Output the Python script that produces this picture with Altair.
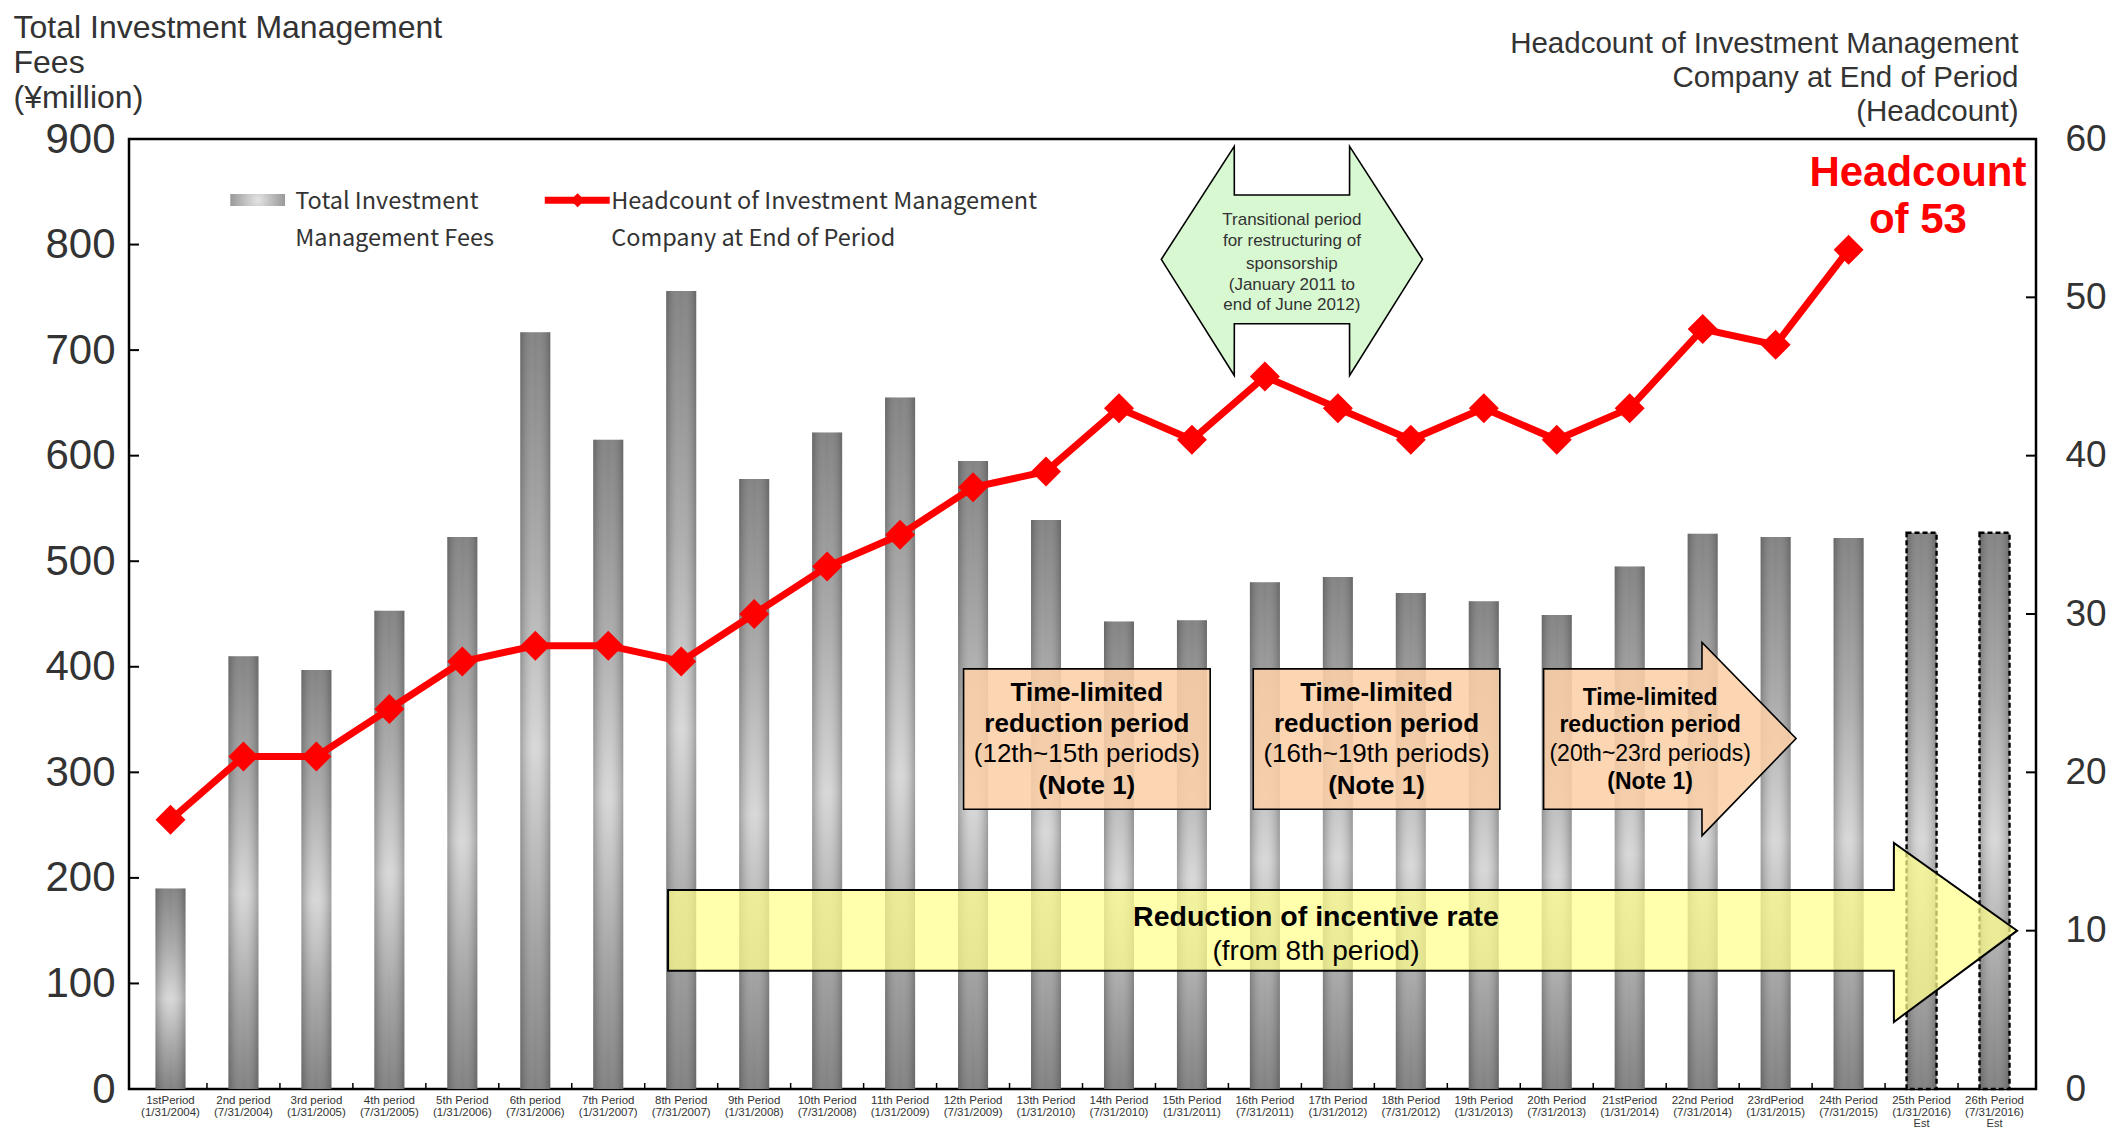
import altair as alt
import pandas as pd

# ---------------- data ----------------
periods = ["1stPeriod", "2nd period", "3rd period", "4th period", "5th Period", "6th period",
           "7th Period", "8th Period", "9th Period", "10th Period", "11th Period", "12th Period",
           "13th Period", "14th Period", "15th Period", "16th Period", "17th Period", "18th Period",
           "19th Period", "20th Period", "21stPeriod", "22nd Period", "23rdPeriod", "24th Period",
           "25th Period", "26th Period"]
dates = ["(1/31/2004)", "(7/31/2004)", "(1/31/2005)", "(7/31/2005)", "(1/31/2006)", "(7/31/2006)",
         "(1/31/2007)", "(7/31/2007)", "(1/31/2008)", "(7/31/2008)", "(1/31/2009)", "(7/31/2009)",
         "(1/31/2010)", "(7/31/2010)", "(1/31/2011)", "(7/31/2011)", "(1/31/2012)", "(7/31/2012)",
         "(1/31/2013)", "(7/31/2013)", "(1/31/2014)", "(7/31/2014)", "(1/31/2015)", "(7/31/2015)",
         "(1/31/2016)", "(7/31/2016)"]
estimate = [False] * 24 + [True] * 2
est_label = "Est"
fees = [190, 410, 397, 453, 523, 717, 615, 756, 578, 622, 655, 595, 539,
        443, 444, 480, 485, 470, 462, 449, 495, 526, 523, 522, 527, 527]
headcount = [17, 21, 21, 24, 27, 28, 28, 27, 30, 33, 35, 38, 39,
             43, 41, 45, 43, 41, 43, 41, 43, 48, 47, 53, None, None]

left_ticks = list(range(0, 901, 100))
right_ticks = list(range(0, 61, 10))

left_title = ["Total Investment Management", "Fees", "(\u00a5million)"]
right_title = ["Headcount of Investment Management", "Company at End of Period", "(Headcount)"]

# annotation shapes (x in period index units, y in \u00a5 million units)
green_x = [14.58, 15.58, 15.581, 17.16, 17.161, 18.16]
green_top = [786, 893, 847, 847, 893, 786]
green_bot = [786, 676, 725, 725, 676, 786]

yellow_x = [7.82, 24.62, 24.621, 26.31]
yellow_top = [188.5, 188.5, 233, 150]
yellow_bot = [112, 112, 63.5, 150]

oarrow_x = [19.82, 21.99, 21.991, 23.28]
oarrow_top = [398, 398, 423, 332]
oarrow_bot = [265, 265, 240, 332]

box_x1 = [11.87, 15.84]
box_x2 = [15.25, 19.22]
box_y1 = [265, 265]
box_y2 = [398, 398]

# ---------------- texts ----------------
green_lines = ["Transitional period", "for restructuring of", "sponsorship",
               "(January 2011 to", "end of June 2012)"]
green_text_x = 16.37
green_text_y = [823, 803, 782, 762, 743]

box1_lines = ["Time-limited", "reduction period", "(12th~15th periods)", "(Note 1)"]
box2_lines = ["Time-limited", "reduction period", "(16th~19th periods)", "(Note 1)"]
arr_lines = ["Time-limited", "reduction period", "(20th~23rd periods)", "(Note 1)"]
line_bold = [True, True, False, True]
box_text_x = [13.56, 17.53]
box_text_y = [375, 346, 317, 287]
arr_text_x = 21.28
arr_text_y = [370, 345, 317, 291]

yellow_lines = ["Reduction of incentive rate", "(from 8th period)"]
yellow_text_x = 16.70
yellow_text_y = [163, 130]

hc_lines = ["Headcount", "of 53"]
hc_text_x = 24.95
hc_text_y = [868, 823]

legend_lines = ["Total Investment", "Management Fees",
                "Headcount of Investment Management", "Company at End of Period"]
legend_text_x = [2.71, 2.71, 7.04, 7.04]
legend_text_y = [840, 805, 840, 805]

# ---------------- layout ----------------
W, H = 1907, 950
FONT = "Liberation Sans"
XFONT = "Liberation Sans Narrow, Liberation Sans"
RED = "#ff0000"

idx = list(range(1, len(periods) + 1))
df = pd.DataFrame({"idx": idx, "period": periods, "date": dates, "est": estimate,
                   "estlab": [est_label if e else "" for e in estimate],
                   "fees": fees, "headcount": headcount})

xscale = alt.Scale(domain=[0.5, 26.5], nice=False, zero=False)
fee_scale = alt.Scale(domain=[0, 900], nice=False, zero=True)
hc_scale = alt.Scale(domain=[0, 60], nice=False, zero=True)

x_axis = alt.Axis(values=idx, labels=False, ticks=False, domain=False, grid=False, title=None)
left_axis = alt.Axis(values=left_ticks, labelFont=FONT, labelFontSize=42, labelColor="#333333",
                     labelPadding=14, ticks=False, domain=False, grid=False,
                     title=left_title, titleAngle=0, titleAlign="left", titleBaseline="alphabetic",
                     titleX=-116, titleY=-102, titleFont=FONT, titleFontSize=32,
                     titleFontWeight="normal", titleColor="#333333", titleLineHeight=35)
right_axis = alt.Axis(orient="right", values=right_ticks, labelFont=FONT, labelFontSize=37,
                      labelColor="#333333", labelPadding=29, ticks=False, domain=False, grid=False,
                      title=right_title, titleAngle=0, titleAlign="right", titleBaseline="alphabetic",
                      titleX=-18, titleY=-87, titleFont=FONT, titleFontSize=29.5,
                      titleFontWeight="normal", titleColor="#333333", titleLineHeight=34)

vgrad = alt.Gradient(gradient="linear",
                     stops=[alt.GradientStop(color="#7c7c7c", offset=0),
                            alt.GradientStop(color="#a8a8a8", offset=0.3),
                            alt.GradientStop(color="#d6d6d6", offset=0.55),
                            alt.GradientStop(color="#a0a0a0", offset=0.8),
                            alt.GradientStop(color="#7a7a7a", offset=1)],
                     x1=0, x2=0, y1=0, y2=1)
hgrad = alt.Gradient(gradient="linear",
                     stops=[alt.GradientStop(color="rgba(60,60,60,0.35)", offset=0),
                            alt.GradientStop(color="rgba(255,255,255,0.05)", offset=0.5),
                            alt.GradientStop(color="rgba(60,60,60,0.35)", offset=1)],
                     x1=0, x2=1, y1=0, y2=0)
rgrad = alt.Gradient(gradient="radial",
                     stops=[alt.GradientStop(color="#e4e4e4", offset=0),
                            alt.GradientStop(color="#8a8a8a", offset=1)],
                     x1=0.5, y1=0.5, r1=0, x2=0.5, y2=0.5, r2=0.6)

base = alt.Chart(df)


def xq(f):
    return alt.X(f, scale=xscale, axis=None)


def yq(f, s=fee_scale):
    return alt.Y(f, scale=s, axis=None)


bars = base.transform_filter("!datum.est").mark_bar(size=30, color=vgrad).encode(
    x=alt.X("idx:Q", scale=xscale, axis=x_axis),
    y=alt.Y("fees:Q", scale=fee_scale, axis=left_axis))
bars_est = base.transform_filter("datum.est").mark_bar(size=30, color=vgrad).encode(
    x=xq("idx:Q"), y=yq("fees:Q"))
bars_shade = base.mark_bar(size=30, color=hgrad).encode(x=xq("idx:Q"), y=yq("fees:Q"))
bars_est_border = base.transform_filter("datum.est").mark_bar(
    size=30, fillOpacity=0, stroke="black", strokeWidth=2.4, strokeDash=[5, 3]).encode(
    x=xq("idx:Q"), y=yq("fees:Q"))

# x-axis labels drawn from the data
xl1 = base.mark_text(font=XFONT, fontSize=11.5, color="#333333", baseline="middle").encode(
    x=xq("idx:Q"), y=alt.value(H + 12), text="period:N")
xl2 = base.mark_text(font=XFONT, fontSize=11.5, color="#333333", baseline="middle").encode(
    x=xq("idx:Q"), y=alt.value(H + 24), text="date:N")
xl3 = base.transform_filter("datum.est").mark_text(
    font=XFONT, fontSize=11, color="#333333", baseline="middle").encode(
    x=xq("idx:Q"), y=alt.value(H + 35), text="estlab:N")

yellow = alt.Chart(pd.DataFrame({"x": yellow_x, "t": yellow_top, "b": yellow_bot})).mark_area(
    orient="vertical", fill="#ffff8c", fillOpacity=0.72, stroke="black", strokeWidth=2).encode(
    x=xq("x:Q"), y=yq("t:Q"), y2="b:Q")

boxes = alt.Chart(pd.DataFrame({"x1": box_x1, "x2": box_x2, "y1": box_y1, "y2": box_y2})).mark_rect(
    fill="#fcd0a8", fillOpacity=0.88, stroke="black", strokeWidth=1.6).encode(
    x=xq("x1:Q"), x2="x2:Q", y=yq("y1:Q"), y2="y2:Q")

oarrow = alt.Chart(pd.DataFrame({"x": oarrow_x, "t": oarrow_top, "b": oarrow_bot})).mark_area(
    orient="vertical", fill="#fcd0a8", fillOpacity=0.88, stroke="black", strokeWidth=1.6).encode(
    x=xq("x:Q"), y=yq("t:Q"), y2="b:Q")

green = alt.Chart(pd.DataFrame({"x": green_x, "t": green_top, "b": green_bot})).mark_area(
    orient="vertical", fill="#d8f8d2", stroke="black", strokeWidth=1.6).encode(
    x=xq("x:Q"), y=yq("t:Q"), y2="b:Q")

hc = base.transform_filter("isValid(datum.headcount)")
line = hc.mark_line(color=RED, strokeWidth=7).encode(
    x=xq("idx:Q"), y=alt.Y("headcount:Q", scale=hc_scale, axis=right_axis))
pts = hc.mark_point(shape="diamond", filled=True, size=900, color=RED, opacity=1).encode(
    x=xq("idx:Q"), y=yq("headcount:Q", hc_scale))

# inward ticks
lt = alt.Chart(pd.DataFrame({"v": left_ticks})).mark_rule(color="black", strokeWidth=2).encode(
    y=yq("v:Q"), x=alt.value(0), x2=alt.value(10))
rt = alt.Chart(pd.DataFrame({"v": right_ticks})).mark_rule(color="black", strokeWidth=2).encode(
    y=yq("v:Q", hc_scale), x=alt.value(W - 10), x2=alt.value(W))
bt = alt.Chart(pd.DataFrame({"v": [i + 0.5 for i in idx[:-1]]})).mark_rule(
    color="black", strokeWidth=1.5).encode(x=xq("v:Q"), y=alt.value(H - 6), y2=alt.value(H))

# annotation text table
rows = []
for s, yy in zip(green_lines, green_text_y):
    rows.append(dict(x=green_text_x, y=yy, text=s, size=17, color="#333333", bold=False))
for bx, lines in zip(box_text_x, [box1_lines, box2_lines]):
    for s, yy, b in zip(lines, box_text_y, line_bold):
        rows.append(dict(x=bx, y=yy, text=s, size=26, color="#000000", bold=b))
for s, yy, b in zip(arr_lines, arr_text_y, line_bold):
    rows.append(dict(x=arr_text_x, y=yy, text=s, size=23, color="#000000", bold=b))
rows.append(dict(x=yellow_text_x, y=yellow_text_y[0], text=yellow_lines[0], size=28.5, color="#000000", bold=True))
rows.append(dict(x=yellow_text_x, y=yellow_text_y[1], text=yellow_lines[1], size=28, color="#000000", bold=False))
for s, yy in zip(hc_lines, hc_text_y):
    rows.append(dict(x=hc_text_x, y=yy, text=s, size=42, color=RED, bold=True))
tdf = pd.DataFrame(rows)


def text_layer(bold):
    return alt.Chart(tdf).transform_filter(
        "datum.bold" if bold else "!datum.bold").mark_text(
        font=FONT, fontWeight="bold" if bold else "normal", baseline="middle", align="center").encode(
        x=xq("x:Q"), y=yq("y:Q"), text="text:N",
        size=alt.Size("size:Q", scale=None, legend=None),
        color=alt.Color("color:N", scale=None, legend=None))


leg_text = alt.Chart(pd.DataFrame({"x": legend_text_x, "y": legend_text_y, "text": legend_lines})).mark_text(
    font="Noto Sans CJK JP", fontSize=23.5, color="#333333", align="left", baseline="middle").encode(
    x=xq("x:Q"), y=yq("y:Q"), text="text:N")
leg_bar = alt.Chart(pd.DataFrame({"x1": [1.82], "x2": [2.57], "y1": [836.5], "y2": [848]})).mark_rect(
    color=rgrad).encode(x=xq("x1:Q"), x2="x2:Q", y=yq("y1:Q"), y2="y2:Q")
leg_line = alt.Chart(pd.DataFrame({"x1": [6.13], "x2": [7.02], "y": [842]})).mark_rule(
    color=RED, strokeWidth=7).encode(x=xq("x1:Q"), x2="x2:Q", y=yq("y:Q"))
leg_pt = alt.Chart(pd.DataFrame({"x": [6.58], "y": [842]})).mark_point(
    shape="diamond", filled=True, size=200, color=RED, opacity=1).encode(x=xq("x:Q"), y=yq("y:Q"))

chart = alt.layer(
    bars, bars_est, bars_shade, bars_est_border, yellow, boxes, oarrow, green, line, pts,
    lt, rt, bt, xl1, xl2, xl3, text_layer(True), text_layer(False),
    leg_bar, leg_line, leg_pt, leg_text
).resolve_scale(y="independent").properties(
    width=W, height=H,
    background="white",
    autosize=alt.AutoSizeParams(type="none"),
    padding={"left": 121, "top": 131, "right": 70, "bottom": 41},
).configure_view(stroke="black", strokeWidth=2.5)

chart.save("out.html", embed_options={"renderer": "svg", "actions": False})
